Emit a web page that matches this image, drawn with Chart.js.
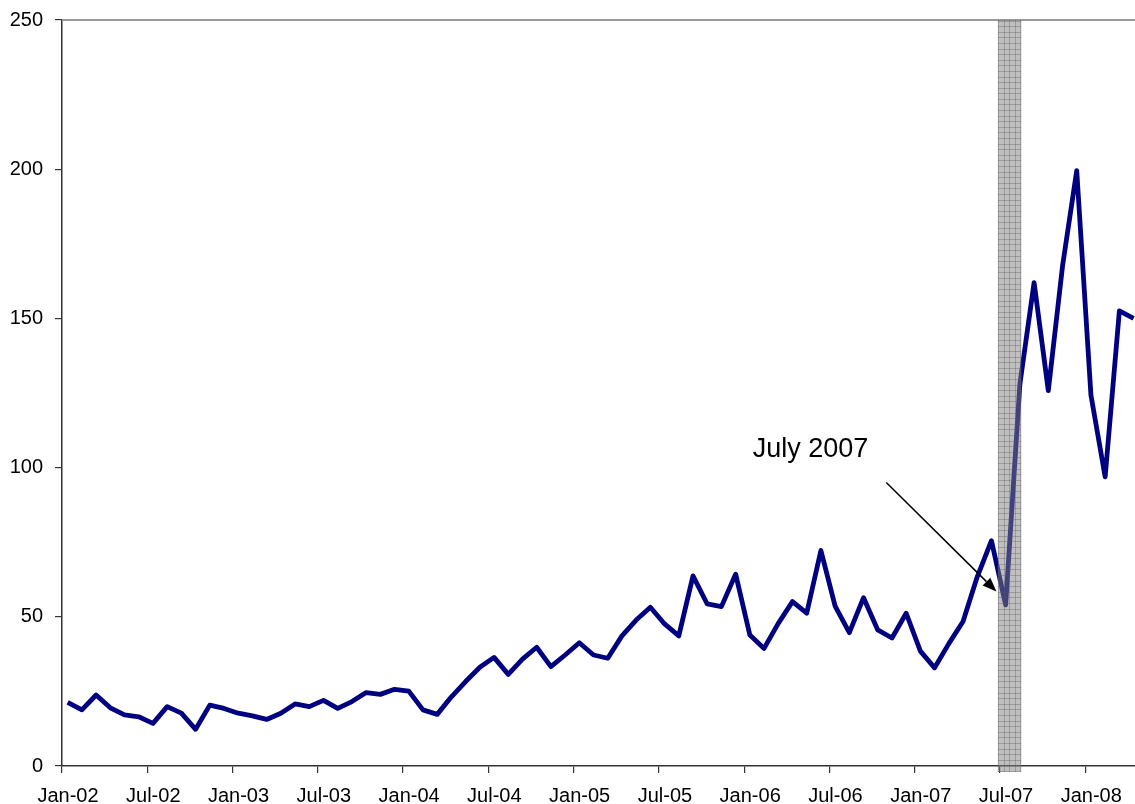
<!DOCTYPE html>
<html><head><meta charset="utf-8">
<script src="https://cdn.jsdelivr.net/npm/chart.js@4/dist/chart.umd.min.js"></script>
<style>html,body{margin:0;padding:0;background:#fff;overflow:hidden}canvas{display:block}</style>
</head><body><canvas id="c" width="1135" height="804"></canvas>
<script>
// ---- data ----
const months = [
 'Jan-02','Feb-02','Mar-02','Apr-02','May-02','Jun-02','Jul-02','Aug-02','Sep-02','Oct-02','Nov-02','Dec-02',
 'Jan-03','Feb-03','Mar-03','Apr-03','May-03','Jun-03','Jul-03','Aug-03','Sep-03','Oct-03','Nov-03','Dec-03',
 'Jan-04','Feb-04','Mar-04','Apr-04','May-04','Jun-04','Jul-04','Aug-04','Sep-04','Oct-04','Nov-04','Dec-04',
 'Jan-05','Feb-05','Mar-05','Apr-05','May-05','Jun-05','Jul-05','Aug-05','Sep-05','Oct-05','Nov-05','Dec-05',
 'Jan-06','Feb-06','Mar-06','Apr-06','May-06','Jun-06','Jul-06','Aug-06','Sep-06','Oct-06','Nov-06','Dec-06',
 'Jan-07','Feb-07','Mar-07','Apr-07','May-07','Jun-07','Jul-07','Aug-07','Sep-07','Oct-07','Nov-07','Dec-07',
 'Jan-08','Feb-08','Mar-08','Apr-08'
];
const values = [
 21.3, 18.8, 23.8, 19.5, 17.1, 16.5, 14.3, 19.9, 17.7, 12.3, 20.4, 19.3,
 17.7, 16.8, 15.6, 17.7, 20.8, 19.9, 22.0, 19.3, 21.6, 24.6, 24.0, 25.7,
 25.1, 18.8, 17.3, 23.2, 28.3, 33.1, 36.4, 30.7, 35.8, 39.8, 33.3, 37.2,
 41.3, 37.2, 36.1, 43.6, 48.9, 53.2, 47.6, 43.6, 63.7, 54.3, 53.4, 64.3,
 43.9, 39.4, 47.8, 55.1, 51.2, 72.2, 53.6, 44.7, 56.4, 45.6, 42.9, 51.2,
 38.5, 32.9, 41.0, 48.4, 63.4, 75.5, 54.0, 128.0, 162.0, 125.8, 167.5, 199.5,
 124.3, 96.9, 152.5, 150.0
];
const xTickLabels = ['Jan-02','Jul-02','Jan-03','Jul-03','Jan-04','Jul-04','Jan-05','Jul-05','Jan-06','Jul-06','Jan-07','Jul-07','Jan-08'];
const yTickValues = [0, 50, 100, 150, 200, 250];
const highlightMonth = 'Jul-07';
const annotationLabel = 'July 2007';

// ---- style / layout constants ----
const MID = 0.4;          // points sit mid-month, ticks at month start
const X_MAX = 75.5;
const FONT = "'Liberation Sans', Arial, sans-serif";
const hi = months.indexOf(highlightMonth);

const points = values.map((v, i) => ({ x: i + MID, y: v }));

const decor = {
  id: 'decor',
  beforeDatasetsDraw(chart) {
    const { ctx, chartArea: a } = chart;
    ctx.save();
    ctx.strokeStyle = '#999';
    ctx.lineWidth = 2;
    ctx.beginPath();
    ctx.moveTo(a.left, a.top);
    ctx.lineTo(chart.width, a.top);
    ctx.stroke();
    ctx.restore();
  },
  afterDatasetsDraw(chart) {
    const { ctx, chartArea: a, scales: { x, y } } = chart;
    // shaded band
    const x1 = x.getPixelForValue(hi - 0.15), x2 = x.getPixelForValue(hi + 1.5);
    const y1 = a.top, y2 = a.bottom + 6;
    ctx.save();
    ctx.fillStyle = 'rgba(128,128,128,0.5)';
    ctx.fillRect(x1, y1, x2 - x1, y2 - y1);
    ctx.beginPath();
    ctx.rect(x1, y1, x2 - x1, y2 - y1);
    ctx.clip();
    ctx.strokeStyle = 'rgba(90,90,90,0.35)';
    ctx.lineWidth = 1;
    ctx.beginPath();
    for (let gx = x1 + 0.5; gx < x2; gx += 5.5) { ctx.moveTo(Math.round(gx) + 0.5, y1); ctx.lineTo(Math.round(gx) + 0.5, y2); }
    for (let gy = y1 + 0.5; gy < y2; gy += 5.6) { ctx.moveTo(x1, Math.round(gy) + 0.5); ctx.lineTo(x2, Math.round(gy) + 0.5); }
    ctx.stroke();
    ctx.restore();

    // annotation arrow + label
    const sx = x.getPixelForValue(hi - 8.0), sy = y.getPixelForValue(95);
    const tx = x.getPixelForValue(hi - 0.25), ty = y.getPixelForValue(58.5);
    ctx.save();
    ctx.strokeStyle = '#000';
    ctx.fillStyle = '#000';
    ctx.lineWidth = 1.5;
    const ang = Math.atan2(ty - sy, tx - sx);
    const hl = 14, hw = 5.5;
    const bx = tx - hl * Math.cos(ang), by = ty - hl * Math.sin(ang);
    ctx.beginPath();
    ctx.moveTo(sx, sy);
    ctx.lineTo(bx, by);
    ctx.stroke();
    ctx.beginPath();
    ctx.moveTo(tx, ty);
    ctx.lineTo(bx + hw * Math.sin(ang), by - hw * Math.cos(ang));
    ctx.lineTo(bx - hw * Math.sin(ang), by + hw * Math.cos(ang));
    ctx.closePath();
    ctx.fill();
    ctx.font = '27px ' + FONT;
    ctx.textBaseline = 'alphabetic';
    ctx.textAlign = 'left';
    ctx.fillText(annotationLabel, x.getPixelForValue(hi - 17.4), y.getPixelForValue(103.5));
    ctx.restore();
  }
};

new Chart(document.getElementById('c'), {
  type: 'line',
  data: {
    datasets: [{
      data: points,
      borderColor: '#000080',
      borderWidth: 4.8,
      pointRadius: 0,
      tension: 0,
      borderJoinStyle: 'round',
      borderCapStyle: 'butt',
      fill: false
    }]
  },
  options: {
    responsive: false,
    animation: false,
    devicePixelRatio: 1,
    layout: { padding: { top: 20, right: 0, left: 0, bottom: 0 } },
    plugins: { legend: { display: false }, tooltip: { enabled: false } },
    scales: {
      x: {
        type: 'linear',
        min: 0,
        max: X_MAX,
        afterBuildTicks(scale) {
          scale.ticks = xTickLabels.map(l => ({ value: months.indexOf(l) }));
        },
        afterFit(scale) { scale.height = 38; scale.paddingLeft = 0; scale.paddingRight = 0; },
        grid: { drawOnChartArea: false, drawTicks: true, tickLength: 7, color: '#333', lineWidth: 1.2 },
        border: { color: '#333', width: 1.5 },
        ticks: {
          autoSkip: false,
          maxRotation: 0,
          padding: 11,
          labelOffset: 6,
          color: '#000',
          font: { family: FONT, size: 20 },
          callback: v => months[v]
        }
      },
      y: {
        min: 0,
        max: 250,
        afterBuildTicks(scale) {
          scale.ticks = yTickValues.map(v => ({ value: v }));
        },
        afterFit(scale) { scale.width = 62; scale.paddingTop = 0; scale.paddingBottom = 0; },
        grid: { drawOnChartArea: false, drawTicks: true, tickLength: 7, color: '#333', lineWidth: 1.2 },
        border: { color: '#333', width: 1.5 },
        ticks: {
          padding: 12,
          color: '#000',
          font: { family: FONT, size: 20 }
        }
      }
    }
  },
  plugins: [decor]
});
</script>
</body></html>
